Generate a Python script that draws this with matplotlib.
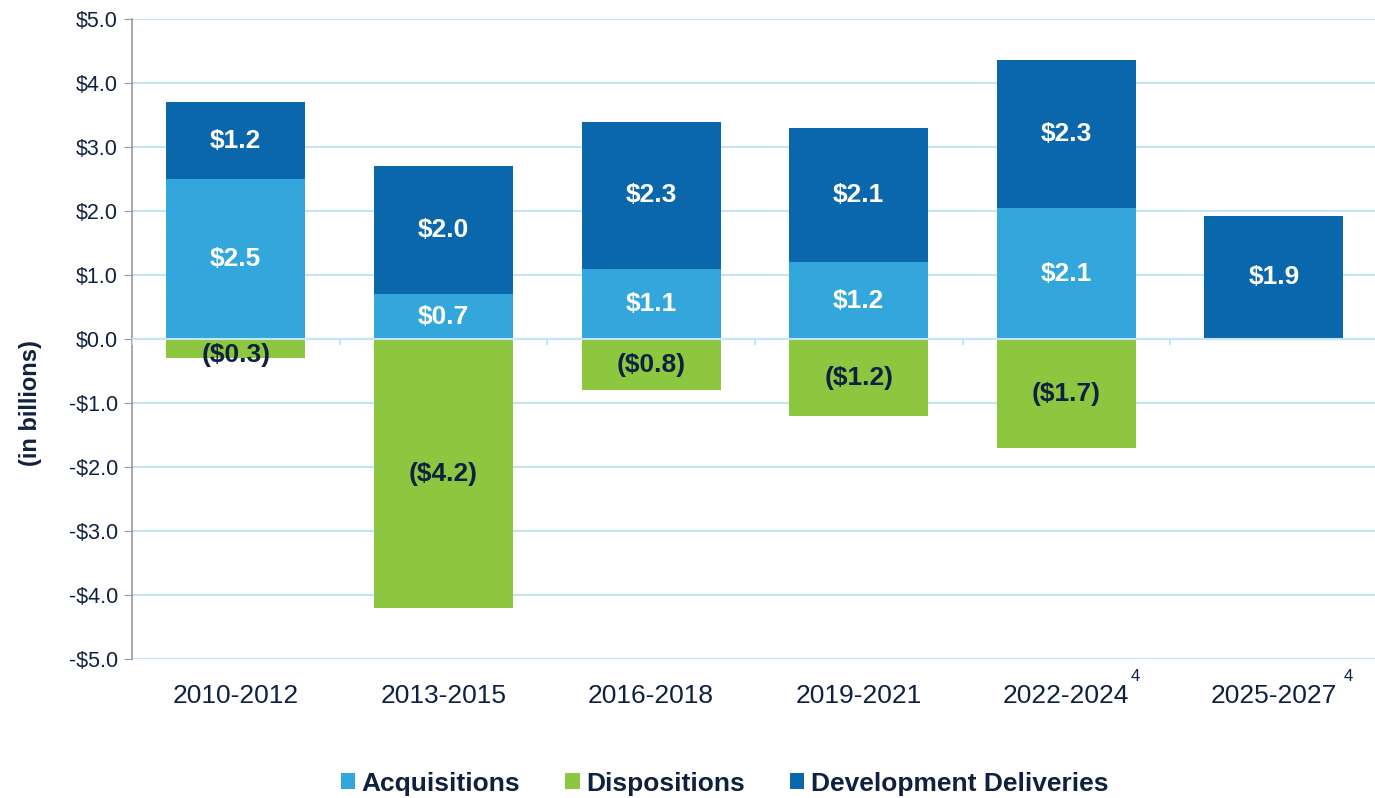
import matplotlib
matplotlib.use("Agg")
import matplotlib.pyplot as plt
import numpy as np
from matplotlib.transforms import blended_transform_factory

plt.rcParams['font.family'] = ['Liberation Sans', 'DejaVu Sans']

categories = ["2010-2012", "2013-2015", "2016-2018", "2019-2021", "2022-2024", "2025-2027"]
superscripts = ["", "", "", "", "4", "4"]
acquisitions = [2.5, 0.7, 1.1, 1.2, 2.05, 0.0]
dispositions = [-0.3, -4.2, -0.8, -1.2, -1.7, 0.0]
development = [1.2, 2.0, 2.3, 2.1, 2.31, 1.93]
acq_labels = ["$2.5", "$0.7", "$1.1", "$1.2", "$2.1", ""]
disp_labels = ["($0.3)", "($4.2)", "($0.8)", "($1.2)", "($1.7)", ""]
dev_labels = ["$1.2", "$2.0", "$2.3", "$2.1", "$2.3", "$1.9"]
yticks = [5, 4, 3, 2, 1, 0, -1, -2, -3, -4, -5]
ytick_labels = ["$5.0", "$4.0", "$3.0", "$2.0", "$1.0", "$0.0", "-$1.0", "-$2.0", "-$3.0", "-$4.0", "-$5.0"]

c_acq = "#33A7DB"
c_disp = "#8DC63F"
c_dev = "#0B67AB"
c_text = "#0F2140"
c_grid = "#C3E4F9"

fig = plt.figure(figsize=(13.75, 7.98), dpi=100)
ax = fig.add_axes([0.096, 0.174, 0.906, 0.802])

x = np.arange(len(categories))
w = 0.67
ax.bar(x, acquisitions, w, color=c_acq, label="Acquisitions", zorder=3)
ax.bar(x, dispositions, w, color=c_disp, label="Dispositions", zorder=3)
ax.bar(x, development, w, bottom=acquisitions, color=c_dev, label="Development Deliveries", zorder=3)

fs = 19
for i in range(len(categories)):
    if acq_labels[i]:
        ax.text(x[i], acquisitions[i] / 2, acq_labels[i], ha="center", va="center",
                color="white", fontsize=fs, fontweight="bold", zorder=5)
    if disp_labels[i]:
        ax.text(x[i], min(dispositions[i] / 2, -0.24), disp_labels[i], ha="center", va="center",
                color=c_text, fontsize=fs, fontweight="bold", zorder=5)
    if dev_labels[i]:
        ax.text(x[i], acquisitions[i] + development[i] / 2, dev_labels[i], ha="center", va="center",
                color="white", fontsize=fs, fontweight="bold", zorder=5)

ax.set_xlim(-0.5, len(categories) - 0.5)
ax.set_ylim(-5, 5)
ax.set_yticks(yticks)
ax.set_yticklabels(ytick_labels)
ax.yaxis.grid(True, color=c_grid, linewidth=1.5, zorder=0)
ax.axhline(0, color=c_grid, linewidth=1.5, zorder=4)
ax.vlines(np.arange(len(categories) + 1) - 0.5, -0.09, 0, color=c_grid, linewidth=1.5, zorder=4)

ax.set_xticks(x)
ax.set_xticklabels(categories)
ax.tick_params(axis="x", length=0, pad=18, labelsize=19, labelcolor=c_text)
ax.tick_params(axis="y", length=6, color="#999999", labelsize=15.5, labelcolor=c_text, pad=4)

trans = blended_transform_factory(ax.transData, ax.transAxes)
sup_x = [0, 0, 0, 0, 4.33, 5.36]
for i, s in enumerate(superscripts):
    if s:
        ax.text(sup_x[i], -0.015, s, transform=trans, ha="center", va="top",
                fontsize=12, color=c_text)

for side in ["top", "right", "bottom"]:
    ax.spines[side].set_visible(False)
ax.spines["left"].set_color("#999999")
ax.spines["left"].set_linewidth(1.2)

ax.set_ylabel("(in billions)", fontsize=17, fontweight="bold", color=c_text, labelpad=22)
ax.yaxis.set_label_coords(-0.072, 0.4)

leg = fig.legend(loc="center", bbox_to_anchor=(0.527, 0.018), ncol=3, frameon=False,
                 handlelength=0.55, handleheight=0.55, handletextpad=0.25, columnspacing=1.7,
                 prop={"size": 19, "weight": "bold"})
for t in leg.get_texts():
    t.set_color(c_text)

fig.savefig("out.png", dpi=100)
